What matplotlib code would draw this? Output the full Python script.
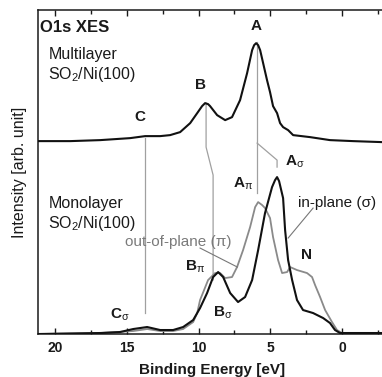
import matplotlib.pyplot as plt
from matplotlib.ticker import MultipleLocator

plt.rcParams['font.family'] = ['Liberation Sans', 'DejaVu Sans']
plt.rcParams['mathtext.fontset'] = 'custom'
plt.rcParams['mathtext.rm'] = 'Liberation Sans'
plt.rcParams['mathtext.bf'] = 'Liberation Sans:bold'
plt.rcParams['mathtext.it'] = 'Liberation Sans:italic'

# multilayer spectrum (binding energy in eV, intensity in arb. units)
multi_e = [21.18, 18.95, 16.86, 14.77, 13.73, 12.68, 11.99, 11.29, 10.59, 10.10,
           9.76, 9.55, 9.34, 9.20, 8.71, 8.15, 7.67, 7.11, 6.62, 6.27, 6.13,
           5.99, 5.85, 5.71, 5.23, 5.02, 4.81, 4.53, 4.32, 4.11, 3.76, 3.41,
           2.23, 0.84, -0.77, -2.79]
multi_i = [1, 1, 2, 4, 6, 6, 7, 10, 19, 29,
           36, 39, 38, 36, 27, 22, 25, 42, 69, 92, 97,
           99, 97, 92, 62, 50, 36, 29, 19, 15, 12, 7,
           5, 2, 1, 0]
multi_offset = 192

# monolayer, in-plane (sigma) component
sig_e = [21.18, 16.86, 15.47, 14.56, 13.59, 12.68, 11.78, 11.08, 10.38, 9.90,
         9.41, 8.99, 8.64, 8.29, 7.80, 7.25, 6.76, 6.27, 5.85, 5.37,
         4.88, 4.67, 4.53, 4.39, 4.11, 3.97, 3.76, 3.48, 3.14, 2.72, 2.02, 1.32,
         0.84, 0.49, 0.14, -1.25, -2.79]
sig_i = [0, 1, 2, 5, 7, 4, 4, 7, 14, 26,
         41, 57, 62, 57, 41, 32, 37, 54, 84, 121,
         147, 154, 157, 153, 136, 104, 74, 54, 34, 24, 21, 16,
         11, 4, 1, 1, 1]

# monolayer, out-of-plane (pi) component
pi_e = [21.18, 16.86, 14.56, 13.59, 12.68, 11.78, 11.08, 10.38, 10.10, 9.90,
        9.34, 8.85, 8.50, 8.15, 7.67, 7.32, 6.90, 6.41, 6.06, 5.85,
        5.57, 5.37, 5.02, 4.81, 4.46, 4.18, 3.83, 3.62, 3.14, 2.44,
        2.09, 1.88, 1.53, 1.18, 0.70, 0.35, 0.00, -1.25, -2.79]
pi_i = [0, 1, 3, 5, 3, 3, 5, 12, 21, 34,
        54, 61, 61, 56, 57, 67, 84, 107, 127, 132,
        129, 126, 116, 97, 74, 61, 62, 67, 64, 61,
        57, 49, 37, 24, 12, 4, 1, 1, 1]

# guide lines linking multilayer peaks to monolayer features
guide_c = ([13.73, 13.73], [196, 21])
guide_b = ([9.48, 9.48, 8.99, 8.99], [231, 187, 159, 54])
guide_a = ([5.92, 5.92], [292, 141])
guide_asig = ([5.92, 4.53, 4.53], [191, 174, 167])

fig = plt.figure(figsize=(3.82, 3.77), dpi=100)
ax = fig.add_axes([0.0995, 0.114, 0.91, 0.859])

gc = '#a0a0a0'
for gx, gy in (guide_c, guide_b, guide_a, guide_asig):
    ax.plot(gx, gy, color=gc, lw=0.9, zorder=1)

ax.plot(multi_e, [v + multi_offset for v in multi_i], color='#111111', lw=1.5,
        zorder=3, solid_joinstyle='round')
ax.plot(pi_e, pi_i, color='#8a8a8a', lw=1.3, zorder=2, solid_joinstyle='round')
ax.plot(sig_e, sig_i, color='#111111', lw=1.5, zorder=3, solid_joinstyle='round')

# annotation pointers
ax.plot([2.02, 3.76], [126, 96], color='#777777', lw=0.8, zorder=2)
ax.plot([9.9, 7.3], [86, 67], color='#777777', lw=0.8, zorder=2)

ax.set_xlim(21.2, -3.04)
ax.set_ylim(0, 324)

tc = '#1a1a1a'
ax.text(0.005, 0.97, 'O1s XES', transform=ax.transAxes, fontsize=12,
        fontweight='bold', color=tc, va='top', ha='left')
ax.text(0.03, 0.885, 'Multilayer\nSO$_2$/Ni(100)', transform=ax.transAxes,
        fontsize=11.5, color=tc, va='top', ha='left', linespacing=1.2)
ax.text(0.03, 0.425, 'Monolayer\nSO$_2$/Ni(100)', transform=ax.transAxes,
        fontsize=11.5, color=tc, va='top', ha='left', linespacing=1.2)

ax.text(5.99, 308, 'A', fontsize=11, fontweight='bold', color=tc, ha='center', va='center')
ax.text(9.90, 249, 'B', fontsize=11, fontweight='bold', color=tc, ha='center', va='center')
ax.text(14.08, 217, 'C', fontsize=11, fontweight='bold', color=tc, ha='center', va='center')
ax.text(4.00, 172, r'$\mathbf{A}_{\mathrm{σ}}$', fontsize=11, color=tc, ha='left', va='center')
ax.text(7.62, 150, r'$\mathbf{A}_{\mathrm{π}}$', fontsize=11, color=tc, ha='left', va='center')
ax.text(10.94, 67, r'$\mathbf{B}_{\mathrm{π}}$', fontsize=11, color=tc, ha='left', va='center')
ax.text(8.99, 21, r'$\mathbf{B}_{\mathrm{σ}}$', fontsize=11, color=tc, ha='left', va='center')
ax.text(16.17, 19, r'$\mathbf{C}_{\mathrm{σ}}$', fontsize=11, color=tc, ha='left', va='center')
ax.text(2.51, 79, 'N', fontsize=11, fontweight='bold', color=tc, ha='center', va='center')
ax.text(3.07, 131, 'in-plane (σ)', fontsize=11, color=tc, ha='left', va='center')
ax.text(15.12, 92, 'out-of-plane (π)', fontsize=11, color='#7a7a7a', ha='left', va='center')

ax.xaxis.set_major_locator(MultipleLocator(5))
ax.xaxis.set_minor_locator(MultipleLocator(2.5))
ax.tick_params(axis='x', which='both', direction='in', top=True, labelsize=10,
               colors=tc, pad=5)
ax.tick_params(axis='x', which='major', length=4, width=1)
ax.tick_params(axis='x', which='minor', length=3, width=1)
ax.set_yticks([])
for lab in ax.get_xticklabels():
    lab.set_fontweight('bold')

for side in ('left', 'bottom', 'top'):
    ax.spines[side].set_linewidth(1.1)
    ax.spines[side].set_color(tc)
ax.spines['right'].set_visible(False)

ax.set_xlabel('Binding Energy [eV]', fontsize=11, fontweight='bold', color=tc, labelpad=6)
ax.set_ylabel('Intensity [arb. unit]', fontsize=11.5, color=tc, labelpad=8)

fig.savefig('out.png', dpi=100)
